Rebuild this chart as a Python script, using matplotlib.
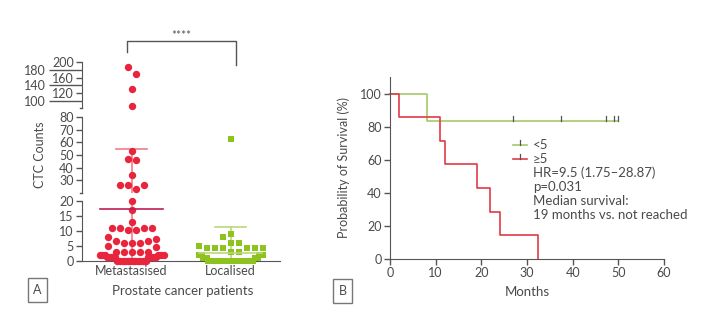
import numpy as np
import matplotlib.pyplot as plt

plt.rcParams['font.family'] = ['Lato', 'DejaVu Sans']

# ---- panel A data (CTC counts per patient) ----
group_labels = ['Metastasised', 'Localised']
metastasised = [186, 170, 130, 88,
                53, 47, 46, 34, 26, 26, 26, 23.5,
                20, 17, 13, 11, 11, 11, 11, 10.3, 10.3, 8, 7.3, 6.8, 6.8,
                6, 6, 6, 5, 4.8, 3, 3, 3, 3, 3, 2, 2, 2, 2, 2, 2,
                1.3, 1.3, 1.3, 1.3, 1.3, 1.3, 1.3, 1.3,
                0, 0, 0, 0, 0, 0, 0, 0, 0, 0, 0, 0]
localised = [63, 9, 8, 6, 6, 5, 4.5, 4.5, 4.5, 4.5, 4.5, 4.5, 3, 3,
             2, 2, 2, 2, 2, 2, 1, 1, 1, 1, 1, 1,
             0, 0, 0, 0, 0, 0, 0, 0, 0, 0, 0, 0, 0, 0, 0, 0,
             0, 0, 0, 0, 0, 0, 0, 0, 0, 0, 0, 0, 0]
seg_limits = [(0, 20), (20, 80), (82, 200)]
seg_ticks = [[0, 5, 10, 15, 20], [30, 40, 50, 60, 70, 80], [120, 160, 200]]
top_long_ticks = [100, 140, 180]

# ---- panel B data (Kaplan-Meier, months) ----
lt5_events = [8]
lt5_censored = [27, 37.4, 47.2, 49, 50]
ge5_events = [2, 11, 12, 19, 22, 24, 32.3]
ge5_censored = []
km_xticks = [0, 10, 20, 30, 40, 50, 60]
km_yticks = [0, 20, 40, 60, 80, 100]
stats_lines = ['HR=9.5 (1.75\u201328.87)', 'p=0.031', 'Median survival:',
               '19 months vs. not reached']

RED = '#e8253d'
GREEN = '#8dc21f'
GREY = '#555555'
TXT = '#4a4a4a'

W, H = 722, 325
fig = plt.figure(figsize=(W / 100, H / 100), dpi=100)


def fx(px):
    return px / W


def fy(py):
    return 1 - py / H


# ---- panel A: three stacked segments of a broken axis ----
left, right = 82, 280
seg_px = [(201, 261), (117, 193), (62, 108)]
axes_a = []
for (top, bot), lim, ticks in zip(seg_px, seg_limits, seg_ticks):
    ax = fig.add_axes([fx(left), fy(bot), fx(right - left), (bot - top) / H])
    ax.set_xlim(-0.5, 1.5)
    ax.set_ylim(*lim)
    ax.set_yticks(ticks)
    ax.tick_params(axis='y', length=4, width=1, color=GREY, labelcolor=TXT,
                   labelsize=9, pad=2)
    ax.tick_params(axis='x', length=0)
    for s in ['top', 'right']:
        ax.spines[s].set_visible(False)
    ax.spines['left'].set_color(GREY)
    ax.spines['bottom'].set_color(GREY)
    ax.patch.set_alpha(0)
    axes_a.append(ax)

ax_bot, ax_mid, ax_top = axes_a
ax_bot.set_xticks([0, 1], group_labels)
ax_bot.tick_params(axis='x', labelsize=9, labelcolor=TXT, pad=3)
for ax in (ax_mid, ax_top):
    ax.spines['bottom'].set_visible(False)
    ax.set_xticks([])
    ax.plot([-0.5 - 0.02, -0.5], [ax.get_ylim()[0]] * 2, color=GREY, lw=1,
            clip_on=False)
ax_top.set_yticks(top_long_ticks, [str(t) for t in top_long_ticks], minor=True)
ax_top.tick_params(axis='y', which='minor', length=24, width=1, color=GREY,
                   labelcolor=TXT, labelsize=9, pad=2)


def seg_axis(v):
    if v <= seg_limits[0][1]:
        return ax_bot
    if v <= seg_limits[1][1]:
        return ax_mid
    return ax_top


def row_layout(values, row_h=6.5, gap=8.0, half_width=32.0):
    # group points into horizontal rows (pixel space), lowest values in the middle
    ys = np.array([seg_axis(v).transData.transform((0, v))[1] for v in values])
    order = np.argsort(ys, kind='stable')
    rows, cur, start = [], [], None
    for i in order:
        if start is None or ys[i] - start > row_h:
            if cur:
                rows.append(cur)
            cur, start = [], ys[i]
        cur.append(i)
    rows.append(cur)
    offs = np.zeros(len(values))
    for r in rows:
        n = len(r)
        step = gap if n < 2 else min(gap, 2 * half_width / (n - 1))
        slots = sorted([(k - (n - 1) / 2) * step for k in range(n)],
                       key=lambda s: (round(abs(s), 6), -s))
        for i, s in zip(sorted(r, key=lambda j: values[j]), slots):
            offs[i] = s
    return offs


px_per_unit = ax_bot.transData.transform((1, 0))[0] - ax_bot.transData.transform((0, 0))[0]

for gi, (vals, col, mk, lcol, mcol) in enumerate([
        (metastasised, RED, 'o', '#f17d86', '#c01d55'),
        (localised, GREEN, 's', '#b9d97a', '#b9d97a')]):
    vals = np.array(vals, dtype=float)
    offs = row_layout(vals) / px_per_unit
    m, sd = vals.mean(), vals.std(ddof=1)
    for ax in axes_a:
        ax.plot([gi, gi], [max(m - sd, 0), m + sd], color=lcol, lw=1.2, zorder=2)
        ax.plot([gi - 0.16, gi + 0.16], [m + sd] * 2, color=lcol, lw=1.2, zorder=2)
        ax.plot([gi - 0.32, gi + 0.32], [m] * 2, color=mcol, lw=1.2, zorder=4)
    for v, o in zip(vals, offs):
        seg_axis(v).plot(gi + o, v, marker=mk, ms=5.3 if mk == 'o' else 5,
                         color=col, mew=0, zorder=3, clip_on=False)

fig.text(fx(40), fy(155), 'CTC Counts', rotation=90, ha='center', va='center',
         fontsize=9, color=TXT)
fig.text(fx(183), fy(291), 'Prostate cancer patients', ha='center', va='center',
         fontsize=9.5, color=TXT)

# significance bracket
bx = [fx(127), fx(127), fx(236), fx(236)]
by = [fy(52), fy(41), fy(41), fy(65)]
fig.add_artist(plt.Line2D(bx, by, color=GREY, lw=1, transform=fig.transFigure))
fig.text(fx(181), fy(35), '****', ha='center', va='center', fontsize=8.5, color=GREY)

# ---- panel B: Kaplan-Meier ----
axb = fig.add_axes([fx(390), fy(259), fx(664 - 390), (259 - 77) / H])
axb.set_xlim(0, 60)
axb.set_ylim(0, 110)
axb.set_xticks(km_xticks)
axb.set_yticks(km_yticks)
axb.tick_params(length=4, width=1, color=GREY, labelcolor=TXT, labelsize=9, pad=2)
for s in ['top', 'right']:
    axb.spines[s].set_visible(False)
for s in ['left', 'bottom']:
    axb.spines[s].set_color(GREY)
axb.set_xlabel('Months', fontsize=9.5, color=TXT, labelpad=5)
axb.set_ylabel('Probability of Survival (%)', fontsize=9, color=TXT, labelpad=7)


def km_curve(events, censored):
    times = sorted(set(events) | set(censored))
    n = len(events) + len(censored)
    s = 100.0
    xs, ys = [0], [100.0]
    marks = []
    for t in times:
        d = events.count(t)
        c = censored.count(t)
        if d:
            xs += [t, t]
            ys += [s, s * (n - d) / n]
            s = s * (n - d) / n
        if c:
            marks += [(t, s)] * c
            xs.append(t)
            ys.append(s)
        n -= d + c
    return xs, ys, marks


for ev, ce, col in [(lt5_events, lt5_censored, '#a7c96b'),
                    (ge5_events, ge5_censored, '#e23a44')]:
    xs, ys, marks = km_curve(ev, ce)
    axb.plot(xs, ys, color=col, lw=1.2, clip_on=False)
    for t, s in marks:
        axb.plot([t, t], [s, s + 3], color=GREY, lw=0.9)

# legend drawn by hand
for yy, col, lab in [(68.7, '#a7c96b', '<5'), (60.6, '#e23a44', '\u22655')]:
    axb.plot([27, 30], [yy, yy], color=col, lw=1.2)
    axb.plot([28.5, 28.5], [yy, yy + 3], color=GREY, lw=0.9)
    axb.text(31.3, yy, lab, fontsize=9.5, color=TXT, va='center')
for k, line in enumerate(stats_lines):
    axb.text(31.3, 52.4 - k * 8.7, line, fontsize=9.5, color=TXT, va='center')

# panel letters
for x, y, lab in [(37.5, 290, 'A'), (342.5, 291, 'B')]:
    fig.text(fx(x), fy(y), lab, ha='center', va='center', fontsize=9, color=TXT,
             bbox=dict(boxstyle='square,pad=0.45', fc='white', ec='#777777', lw=1))

fig.savefig('out.png', dpi=100)
